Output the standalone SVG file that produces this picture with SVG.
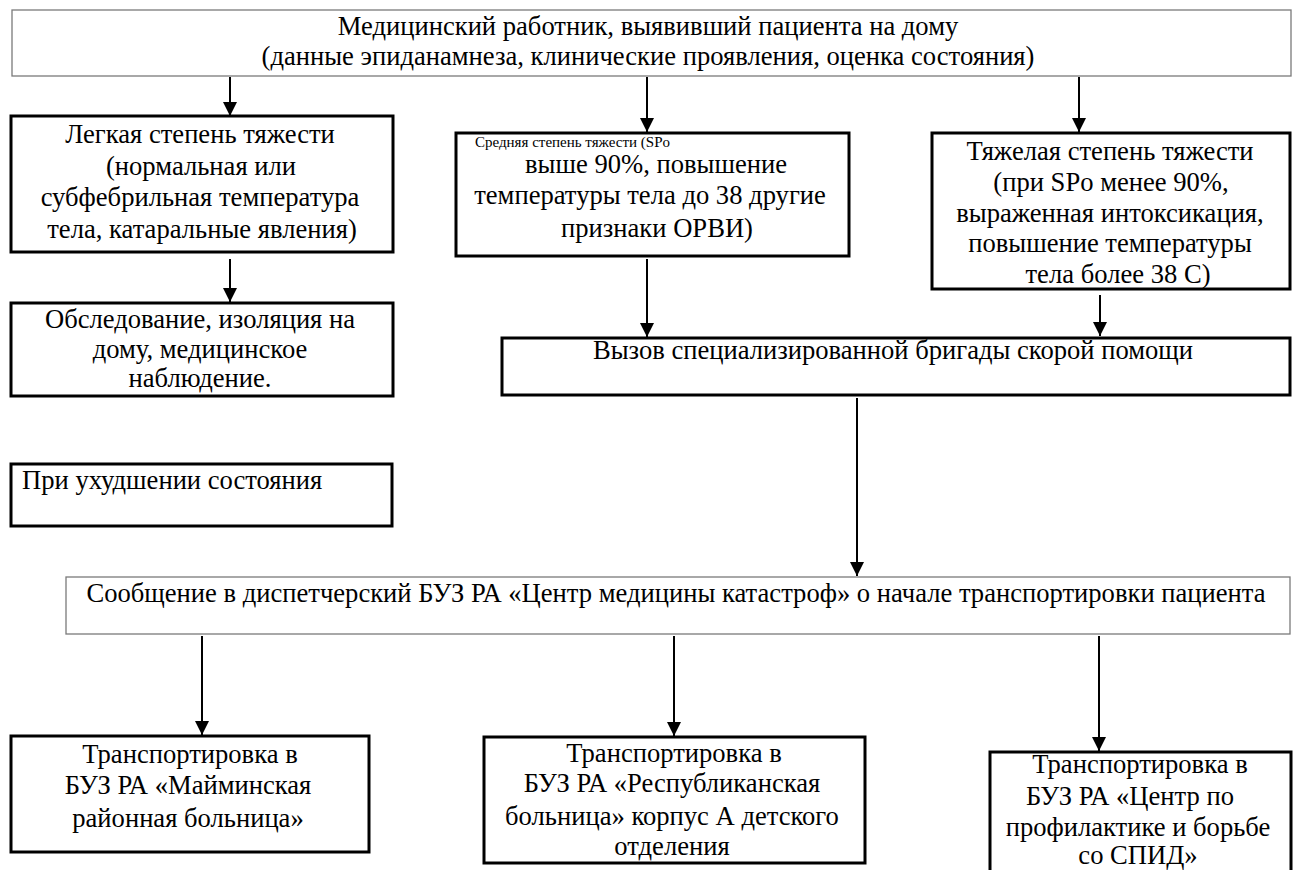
<svg xmlns="http://www.w3.org/2000/svg" width="1295" height="870" viewBox="0 0 1295 870">
<style>
  .bx{fill:#fff;stroke:#000;stroke-width:3}
  .tn{fill:#fff;stroke:#7a7a7a;stroke-width:1.3}
  text{font-family:'Liberation Serif','Times New Roman',serif;font-size:26.6px;fill:#000}
  text.sm{font-size:15px}
  text.c{text-anchor:middle}
  .ar{stroke:#000;stroke-width:2;fill:none;marker-end:url(#ah)}
</style>
<defs>
  <marker id="ah" markerUnits="userSpaceOnUse" markerWidth="14" markerHeight="16" viewBox="0 0 14 16" refX="14" refY="7" orient="auto">
    <path d="M0,0 L14,7 L0,14 Z" fill="#000"/>
  </marker>
</defs>
<rect width="1295" height="870" fill="#fff"/>

<g id="connectors">
  <line class="ar" x1="230" y1="77" x2="230" y2="116"/>
  <line class="ar" x1="647" y1="77" x2="647" y2="132"/>
  <line class="ar" x1="1079" y1="77" x2="1079" y2="132"/>
  <line class="ar" x1="230" y1="259" x2="230" y2="302"/>
  <line class="ar" x1="647" y1="259" x2="647" y2="337"/>
  <line class="ar" x1="1100" y1="295" x2="1100" y2="336"/>
  <line class="ar" x1="857" y1="398" x2="857" y2="576"/>
  <line class="ar" x1="202" y1="636" x2="202" y2="735"/>
  <line class="ar" x1="674" y1="636" x2="674" y2="736"/>
  <line class="ar" x1="1099" y1="636" x2="1099" y2="751"/>
</g>

<g id="n_top">
  <rect class="tn" x="12" y="10" width="1279" height="66"/>
  <text class="c" x="648" y="35">Медицинский работник, выявивший пациента на дому</text>
  <text class="c" x="648" y="65">(данные эпиданамнеза, клинические проявления, оценка состояния)</text>
</g>

<g id="n_light">
  <rect class="bx" x="11" y="116" width="382" height="136"/>
  <text class="c" x="200" y="143">Легкая степень тяжести</text>
  <text class="c" x="201" y="175">(нормальная или</text>
  <text class="c" x="200" y="206">субфебрильная температура</text>
  <text class="c" x="202" y="238">тела, катаральные явления)</text>
</g>

<g id="n_home">
  <rect class="bx" x="11" y="303" width="382" height="93"/>
  <text class="c" x="200" y="328">Обследование, изоляция на</text>
  <text class="c" x="200" y="358">дому, медицинское</text>
  <text class="c" x="200" y="387">наблюдение.</text>
</g>

<g id="n_worse">
  <rect class="bx" x="11" y="464" width="381" height="62"/>
  <text x="22" y="489">При ухудшении состояния</text>
</g>

<g id="n_medium">
  <rect class="bx" x="456" y="133" width="393" height="123"/>
  <text class="sm" x="475" y="147">Средняя степень тяжести (SPo</text>
  <text class="c" x="656" y="173">выше 90%, повышение</text>
  <text class="c" x="650" y="204">температуры тела до 38 другие</text>
  <text class="c" x="657" y="237">признаки ОРВИ)</text>
</g>

<g id="n_severe">
  <rect class="bx" x="932" y="133" width="358" height="156"/>
  <text class="c" x="1110" y="160">Тяжелая степень тяжести</text>
  <text class="c" x="1111" y="191">(при SPo менее 90%,</text>
  <text class="c" x="1110" y="222">выраженная интоксикация,</text>
  <text class="c" x="1110" y="252">повышение температуры</text>
  <text class="c" x="1118" y="283">тела более 38 С)</text>
</g>

<g id="n_call">
  <rect class="bx" x="502" y="338" width="788" height="57"/>
  <text class="c" x="893" y="359">Вызов специализированной бригады скорой помощи</text>
</g>

<g id="n_message">
  <rect class="tn" x="66" y="577" width="1224" height="57"/>
  <text class="c" x="676" y="602">Сообщение в диспетчерский БУЗ РА «Центр медицины катастроф» о начале транспортировки пациента</text>
</g>

<g id="n_maima">
  <rect class="bx" x="11" y="736" width="358" height="116"/>
  <text class="c" x="190" y="763">Транспортировка в</text>
  <text class="c" x="188" y="794">БУЗ РА «Майминская</text>
  <text class="c" x="188" y="827">районная больница»</text>
</g>

<g id="n_republic">
  <rect class="bx" x="484" y="737" width="381" height="126"/>
  <text class="c" x="674" y="762">Транспортировка в</text>
  <text class="c" x="672" y="792">БУЗ РА «Республиканская</text>
  <text class="c" x="672" y="825">больница» корпус А детского</text>
  <text class="c" x="672" y="855">отделения</text>
</g>

<g id="n_aids">
  <rect class="bx" x="990" y="752" width="301" height="130"/>
  <text class="c" x="1140" y="773">Транспортировка в</text>
  <text class="c" x="1130" y="805">БУЗ РА «Центр по</text>
  <text class="c" x="1138" y="836">профилактике и борьбе</text>
  <text class="c" x="1138" y="864">со СПИД»</text>
</g>
</svg>
